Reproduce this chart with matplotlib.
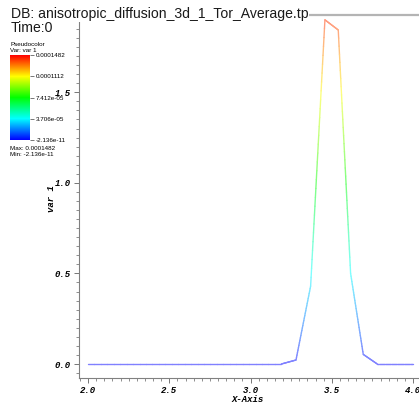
import numpy as np
import matplotlib
matplotlib.use("Agg")
import matplotlib.pyplot as plt
from matplotlib.collections import LineCollection
from matplotlib.colors import LinearSegmentedColormap, Normalize
from matplotlib.ticker import MultipleLocator, FormatStrFormatter
import matplotlib.cm as cm

# ---- data ----
x_vals = [2.0, 3.19, 3.28, 3.37, 3.458, 3.54, 3.616, 3.694, 3.78, 4.0]
y_vals = [0.0, 0.0, 0.022, 0.43, 1.90, 1.844, 0.50, 0.053, 0.0, 0.0]
cbar_min = -2.136e-11
cbar_max = 0.0001482
cbar_labels = ["-2.136e-11", "3.706e-05", "7.412e-05", "0.0001112", "0.0001482"]
title_text = "DB: anisotropic_diffusion_3d_1_Tor_Average.tp"
time_text = "Time:0"
xlabel_text = "X-Axis"
ylabel_text = "var 1"

W, H = 419, 407
fig = plt.figure(figsize=(W / 100, H / 100), dpi=100)
fig.patch.set_facecolor("white")

def fx(px):
    return px / W

def fy(py):
    return 1 - py / H

hot = LinearSegmentedColormap.from_list(
    "visit_hot", [(0, 0, 1), (0, 1, 1), (0, 1, 0), (1, 1, 0), (1, 0, 0)])

# main axes
left_px, right_px, top_px, bottom_px = 78.7, 419, 15, 378
ax = fig.add_axes([fx(left_px), fy(bottom_px), fx(right_px - left_px), (bottom_px - top_px) / H])
x0_px, x1_px = 88.0, 413.0
y0_px, y15_px = 364.0, 92.3
sx = (x1_px - x0_px) / 2.0
sy = (y0_px - y15_px) / 1.5
ax.set_xlim(2.0 - (x0_px - left_px) / sx, 4.0 + (right_px - x1_px) / sx)
ax.set_ylim(-(bottom_px - y0_px) / sy, (y0_px - top_px) / sy)

# gradient-coloured line
xa = np.array(x_vals)
ya = np.array(y_vals)
segs, cols = [], []
norm = Normalize(0, 2.0)
for i in range(len(xa) - 1):
    n = 30
    t = np.linspace(0, 1, n + 1)
    xs = xa[i] + (xa[i + 1] - xa[i]) * t
    ys = ya[i] + (ya[i + 1] - ya[i]) * t
    for j in range(n):
        segs.append([(xs[j], ys[j]), (xs[j + 1], ys[j + 1])])
        c = np.array(hot(norm(0.5 * (ys[j] + ys[j + 1]))))[:3]
        c = 0.5 * c + 0.5
        cols.append(tuple(c))
lc = LineCollection(segs, colors=cols, linewidths=1.0, capstyle="round")
ax.add_collection(lc)

ax.spines["right"].set_visible(False)
ax.spines["top"].set_color("#b4b4b4")
ax.spines["top"].set_linewidth(1.6)
ax.spines["left"].set_color("#808080")
ax.spines["bottom"].set_color("#808080")
ax.spines["left"].set_linewidth(0.8)
ax.spines["bottom"].set_linewidth(0.8)

ax.xaxis.set_major_locator(MultipleLocator(0.5))
ax.xaxis.set_minor_locator(MultipleLocator(0.05))
ax.yaxis.set_major_locator(MultipleLocator(0.5))
ax.yaxis.set_minor_locator(MultipleLocator(0.05))
ax.xaxis.set_major_formatter(FormatStrFormatter("%.1f"))
ax.yaxis.set_major_formatter(FormatStrFormatter("%.1f"))
ax.tick_params(which="major", direction="out", length=3.5, width=0.6, color="#606060",
               labelsize=6.5, pad=2)
ax.tick_params(which="minor", direction="out", length=2, width=0.5, color="#606060")
ax.tick_params(top=False, right=False)
for lab in ax.get_xticklabels() + ax.get_yticklabels():
    lab.set_fontfamily("Liberation Mono")
    lab.set_fontweight("bold")
    lab.set_fontstyle("italic")

fig.text(fx(248), fy(400), xlabel_text, ha="center", va="center", fontsize=6.5,
         family="Liberation Mono", weight="bold", style="italic")
fig.text(fx(51), fy(199), ylabel_text, ha="center", va="center", rotation=90, fontsize=6.5,
         family="Liberation Mono", weight="bold", style="italic")

# title
fig.text(fx(11), fy(18.3), title_text, ha="left", va="baseline", fontsize=10.1,
         family="Liberation Sans", color="#1a1a1a",
         bbox=dict(facecolor="white", edgecolor="none", pad=0.5), zorder=10)
fig.text(fx(11), fy(31.7), time_text, ha="left", va="baseline", fontsize=10.1,
         family="Liberation Sans", color="#1a1a1a", zorder=10)

# colour bar legend
cax = fig.add_axes([fx(10), fy(140), fx(20), 85 / H])
sm = cm.ScalarMappable(norm=Normalize(cbar_min, cbar_max), cmap=hot)
cb = fig.colorbar(sm, cax=cax)
cb.outline.set_visible(False)
ticks = np.linspace(cbar_min, cbar_max, len(cbar_labels))
cb.set_ticks(ticks)
cb.set_ticklabels(cbar_labels)
cax.tick_params(length=3, width=0.5, color="#404040", labelsize=4.5, pad=1)
for lab in cax.get_yticklabels():
    lab.set_fontfamily("Liberation Sans")

fig.text(fx(10), fy(45.5), "Pseudocolor", fontsize=4.5, family="Liberation Sans",
         ha="left", va="baseline")
fig.text(fx(10), fy(51.5), "Var: var 1", fontsize=4.5, family="Liberation Sans",
         ha="left", va="baseline")
fig.text(fx(10), fy(150), "Max: 0.0001482", fontsize=4.5, family="Liberation Sans",
         ha="left", va="baseline")
fig.text(fx(10), fy(156), "Min: -2.136e-11", fontsize=4.5, family="Liberation Sans",
         ha="left", va="baseline")

fig.savefig("out.png", dpi=100, facecolor="white")
